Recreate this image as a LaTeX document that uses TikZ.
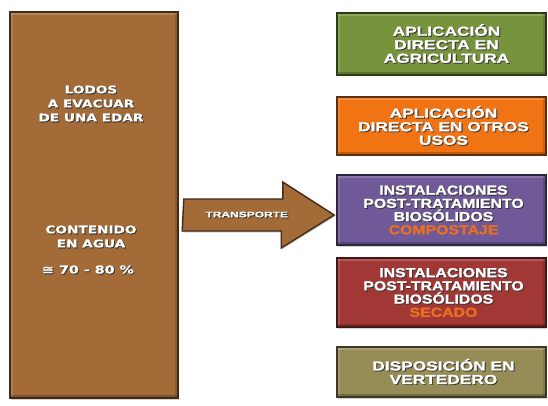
\documentclass[tikz,border=0pt]{standalone}
\usepackage{fontspec}
\setmainfont{Liberation Sans}
\newfontfamily\wideA{Liberation Sans Bold}[FakeStretch=1.33, FakeBold=1.5]
\newfontfamily\wideB{Liberation Sans Bold}[FakeStretch=1.22, FakeBold=1.5]
\newfontfamily\wideT{Liberation Sans Bold}[FakeStretch=1.5, FakeBold=1.2]
\newfontfamily\wideC{DejaVu Sans Bold}[FakeStretch=1.3, FakeBold=0.8]
\usetikzlibrary{calc,shadows}

\definecolor{sludge}{RGB}{163,107,55}
\definecolor{agri}{RGB}{119,147,60}
\definecolor{otros}{RGB}{240,115,20}
\definecolor{compost}{RGB}{112,89,152}
\definecolor{secado}{RGB}{162,56,54}
\definecolor{vert}{RGB}{150,140,85}
\definecolor{hot}{RGB}{234,112,30}

% white lettering with a soft dark shadow
\newcommand{\shd}[1]{\leavevmode\rlap{\raisebox{-0.9pt}{\hspace{0.9pt}\textcolor{black!80}{#1}}}#1}

\tikzset{
  bevelbox/.style={
    rectangle, fill=#1, draw=#1!40!black, line width=1.6pt,
    drop shadow={opacity=.35, shadow xshift=1pt, shadow yshift=-1.5pt},
    path picture={
      \fill[white,opacity=.18] (path picture bounding box.north west) rectangle ([yshift=-3pt]path picture bounding box.north east);
      \fill[white,opacity=.12] (path picture bounding box.north west) rectangle ([xshift=3pt]path picture bounding box.south west);
      \fill[black,opacity=.22] (path picture bounding box.south west) rectangle ([yshift=3pt]path picture bounding box.south east);
      \fill[black,opacity=.15] (path picture bounding box.north east) rectangle ([xshift=-3pt]path picture bounding box.south east);
    }},
  boxtxt/.style={text=white, align=center, font=\wideA\fontsize{13}{13.5}\selectfont},
  boxtxtB/.style={text=white, align=center, font=\wideB\fontsize{13}{13.2}\selectfont},
  lefttxt/.style={text=white, align=center, font=\wideC\fontsize{10.5}{14}\selectfont},
}

\begin{document}
\begin{tikzpicture}[x=1pt,y=-1pt]
\useasboundingbox (0,0) rectangle (548,406);

% source column
\node[bevelbox=sludge, minimum width=168pt, minimum height=386pt] (lodos) at (94,205) {};
\node[lefttxt] (lodosA) at (91,104) {\shd{LODOS}\\\shd{A EVACUAR}\\\shd{DE UNA EDAR}};
\node[lefttxt] (lodosB) at (91,237) {\shd{CONTENIDO}\\\shd{EN AGUA}};
\node[lefttxt, font=\wideC\fontsize{11}{14}\selectfont] (lodosC) at (88,270) {\shd{≅ 70 - 80 \%}};

% destinations
\node[bevelbox=agri, minimum width=209pt, minimum height=62pt] (b1) at (441.5,44) {};
\node[boxtxt] at ([xshift=5pt]b1) {\shd{APLICACIÓN}\\\shd{DIRECTA EN}\\\shd{AGRICULTURA}};

\node[bevelbox=otros, minimum width=209pt, minimum height=58pt] (b2) at (441.5,126) {};
\node[boxtxt] at ([xshift=2pt]b2) {\shd{APLICACIÓN}\\\shd{DIRECTA EN OTROS}\\\shd{USOS}};

\node[bevelbox=compost, minimum width=209pt, minimum height=70pt] (b3) at (441.5,210) {};
\node[boxtxtB] at ([xshift=2pt]b3) {\shd{INSTALACIONES}\\\shd{POST-TRATAMIENTO}\\\shd{BIOSÓLIDOS}\\\textcolor{hot}{COMPOSTAJE}};

\node[bevelbox=secado, minimum width=209pt, minimum height=69pt] (b4) at (441.5,292.5) {};
\node[boxtxtB] at ([xshift=2pt]b4) {\shd{INSTALACIONES}\\\shd{POST-TRATAMIENTO}\\\shd{BIOSÓLIDOS}\\\textcolor{hot}{SECADO}};

\node[bevelbox=vert, minimum width=209pt, minimum height=50pt] (b5) at (441.5,372) {};
\node[boxtxt] at ([xshift=2pt]b5) {\shd{DISPOSICIÓN EN}\\\shd{VERTEDERO}};

% transport arrow from the sludge column to the composting plant
\coordinate (tail) at ($(lodos.east |- 0,215)+(5,0)$);
\coordinate (tip) at ($(b3.west |- 0,215)+(-2,0)$);
\fill[sludge, draw=sludge!40!black, line width=1.4pt,
      drop shadow={opacity=.35, shadow xshift=1pt, shadow yshift=-1.5pt}]
  (tail) ++(0,-16) -- ++(99,0) -- ++(0,-17) -- (tip) -- ++(-53,33) -- ++(0,-17) -- ++(-99,0) -- cycle;
\node[text=white, font=\wideT\fontsize{8}{9}\selectfont] (transp) at ($(tail)+(63,0)$) {\shd{TRANSPORTE}};
\end{tikzpicture}
\end{document}
